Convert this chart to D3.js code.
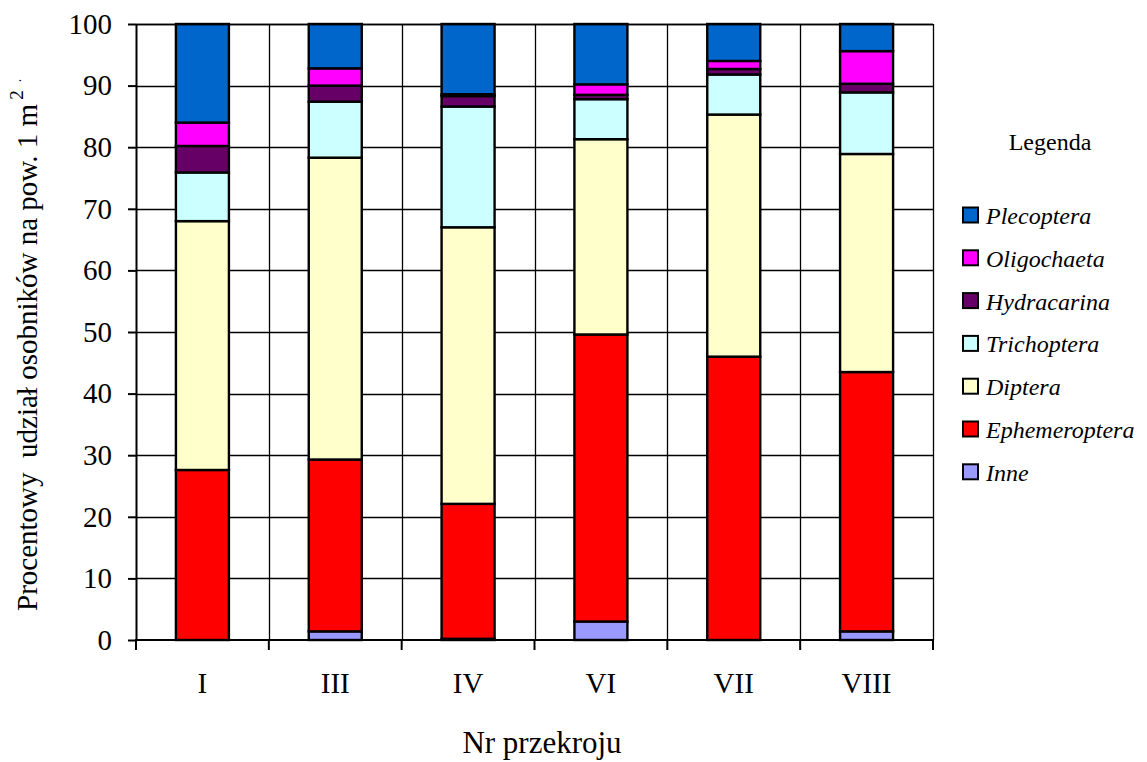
<!DOCTYPE html>
<html>
<head>
<meta charset="utf-8">
<script src="https://cdn.jsdelivr.net/npm/d3@7"></script>
<style>
  html, body { margin: 0; padding: 0; background: #fff; }
  svg { display: block; }
  svg text { font-family: 'Liberation Serif', 'Times New Roman', serif; }
</style>
</head>
<body>
<svg id="chart" width="1147" height="762"></svg>
<script>
// Sampling sections (Roman numerals)
const sections = ["I", "III", "IV", "VI", "VII", "VIII"];

// Percentage share of each taxon per section (stack order bottom → top)
const inne          = [0.0, 1.4, 0.2, 3.0, 0.0, 1.4];
const ephemeroptera = [27.6, 27.9, 21.9, 46.6, 46.0, 42.1];
const diptera       = [40.4, 49.0, 44.9, 31.7, 39.3, 35.4];
const trichoptera   = [7.9, 9.1, 19.6, 6.5, 6.5, 10.0];
const hydracarina   = [4.3, 2.6, 1.7, 0.7, 0.9, 1.4];
const oligochaeta   = [3.8, 2.8, 0.3, 1.7, 1.3, 5.3];
const plecoptera    = [16.0, 7.2, 11.4, 9.8, 6.0, 4.4];

const yTicks = [0, 10, 20, 30, 40, 50, 60, 70, 80, 90, 100];

const series = [
  { name: "Inne",          values: inne,          color: "#9999FF" },
  { name: "Ephemeroptera", values: ephemeroptera, color: "#FF0000" },
  { name: "Diptera",       values: diptera,       color: "#FFFFCC" },
  { name: "Trichoptera",   values: trichoptera,   color: "#CCFFFF" },
  { name: "Hydracarina",   values: hydracarina,   color: "#660066" },
  { name: "Oligochaeta",   values: oligochaeta,   color: "#FF00FF" },
  { name: "Plecoptera",    values: plecoptera,    color: "#0066CC" }
];

const FONT = "'Liberation Serif', 'Times New Roman', serif";
const svg = d3.select("#chart");
const plot = { left: 136, right: 933, top: 24, bottom: 640 };

const x = d3.scaleBand().domain(sections).range([plot.left, plot.right]).paddingInner(0).paddingOuter(0);
const y = d3.scaleLinear().domain([0, 100]).range([plot.bottom, plot.top]);
const barW = 53;

// Table rows for the stack layout
const rows = sections.map((s, i) => {
  const r = { section: s };
  series.forEach(se => { r[se.name] = se.values[i]; });
  return r;
});
const stack = d3.stack().keys(series.map(s => s.name))(rows);

// Horizontal gridlines
svg.append("g").selectAll("line").data(yTicks.filter(t => t > 0)).join("line")
  .attr("x1", plot.left).attr("x2", plot.right)
  .attr("y1", d => Math.round(y(d)) + 0.5).attr("y2", d => Math.round(y(d)) + 0.5)
  .attr("stroke", "#000").attr("stroke-width", 1.3);

// Vertical gridlines at section boundaries
const bounds = sections.map(s => x(s)).concat([plot.right]).slice(1);
svg.append("g").selectAll("line").data(bounds).join("line")
  .attr("x1", d => Math.round(d) + 0.5).attr("x2", d => Math.round(d) + 0.5)
  .attr("y1", plot.top).attr("y2", plot.bottom)
  .attr("stroke", "#000").attr("stroke-width", 1.3);

// Stacked bars
const layers = svg.append("g").selectAll("g").data(stack).join("g")
  .attr("fill", (d, i) => series[i].color);
layers.selectAll("rect").data(d => d).join("rect")
  .attr("x", d => x(d.data.section) + x.bandwidth() / 2 - barW / 2)
  .attr("width", barW)
  .attr("y", d => y(d[1]))
  .attr("height", d => Math.max(0, y(d[0]) - y(d[1])))
  .attr("stroke", "#000").attr("stroke-width", 2.4);

// Y axis
const yAxis = d3.axisLeft(y).tickValues(yTicks).tickSize(8).tickSizeOuter(0).tickPadding(16);
const gy = svg.append("g").attr("transform", `translate(${plot.left},0)`).call(yAxis);
gy.attr("font-family", null);
gy.select(".domain").attr("stroke", "#000").attr("stroke-width", 2);
gy.selectAll(".tick line").attr("stroke", "#000").attr("stroke-width", 2);
gy.selectAll(".tick text").attr("font-size", 29).attr("fill", "#000").style("font-family", FONT);

// X axis: ticks at section boundaries, labels centred under bars
const gx = svg.append("g").attr("transform", `translate(0,${plot.bottom})`);
gx.append("line").attr("x1", plot.left - 1).attr("x2", plot.right)
  .attr("y1", 0).attr("y2", 0).attr("stroke", "#000").attr("stroke-width", 2);
gx.selectAll("line.tk").data([plot.left].concat(bounds)).join("line").attr("class", "tk")
  .attr("x1", d => d).attr("x2", d => d).attr("y1", 0).attr("y2", 10)
  .attr("stroke", "#000").attr("stroke-width", 2);
gx.selectAll("text").data(sections).join("text")
  .attr("x", d => x(d) + x.bandwidth() / 2).attr("y", 53)
  .attr("text-anchor", "middle").attr("font-size", 29).attr("fill", "#000")
  .style("font-family", FONT)
  .text(d => d);

// Top frame line
svg.append("line").attr("x1", plot.left).attr("x2", plot.right)
  .attr("y1", plot.top + 0.5).attr("y2", plot.top + 0.5).attr("stroke", "#000").attr("stroke-width", 1.5);

// Axis titles
svg.append("text").attr("x", 542).attr("y", 753).attr("text-anchor", "middle")
  .attr("font-size", 31).attr("fill", "#000").style("font-family", FONT).text("Nr przekroju");

const yt = svg.append("text")
  .attr("transform", "translate(37,611) rotate(-90)")
  .attr("text-anchor", "start").attr("font-size", 29).attr("fill", "#000")
  .style("font-family", FONT)
  .style("white-space", "pre");
yt.append("tspan").text("Procentowy  udział osobników na pow. 1 m");
yt.append("tspan").attr("font-size", 19).attr("dy", -14).attr("dx", 4).text("2");
yt.append("tspan").attr("font-size", 14).attr("dy", -2).attr("dx", 8).text(".");

// Legend
svg.append("text").attr("x", 1050).attr("y", 150).attr("text-anchor", "middle")
  .attr("font-size", 24).attr("fill", "#000").style("font-family", FONT).text("Legenda");

const legendItems = series.slice().reverse();
const lg = svg.append("g").selectAll("g").data(legendItems).join("g")
  .attr("transform", (d, i) => `translate(963,${215 + i * 42.8})`);
lg.append("rect").attr("x", 0).attr("y", -7.5).attr("width", 15).attr("height", 15)
  .attr("fill", d => d.color).attr("stroke", "#000").attr("stroke-width", 2);
lg.append("text").attr("x", 23).attr("y", 9).attr("font-size", 24)
  .attr("font-style", "italic").attr("fill", "#000").style("font-family", FONT).text(d => d.name);
</script>
</body>
</html>
